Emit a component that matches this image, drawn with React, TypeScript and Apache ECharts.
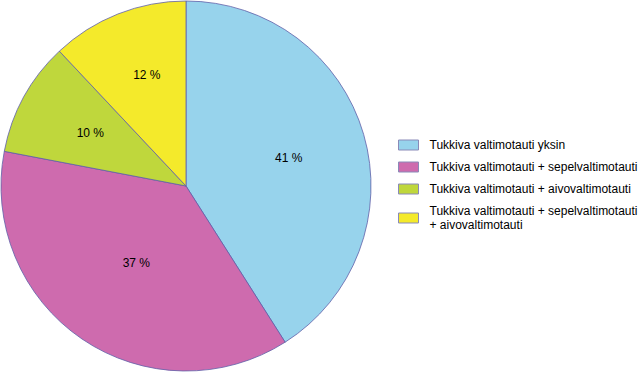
import React, { useEffect, useRef } from "react";
import * as echarts from "echarts";

const categories = [
  "Tukkiva valtimotauti yksin",
  "Tukkiva valtimotauti + sepelvaltimotauti",
  "Tukkiva valtimotauti + aivovaltimotauti",
  "Tukkiva valtimotauti + sepelvaltimotauti\n+ aivovaltimotauti",
];
const values = [41, 37, 10, 12];
const colors = ["#97D3EC", "#CE6BAE", "#BFD73C", "#F4EA2B"];

// small label nudges (px) to match the reference placement
const labelNudge = [
  [11, -1],
  [4, -2],
  [-12, -7],
  [-4, -22],
];

export default function App() {
  const ref = useRef<HTMLDivElement>(null);
  useEffect(() => {
    if (!ref.current) return;
    const chart = echarts.init(ref.current, null, { renderer: "svg" });
    chart.setOption({
      animation: false,
      textStyle: { fontFamily: "Liberation Sans, Arial, sans-serif" },
      legend: {
        orient: "vertical",
        left: 393,
        top: 133,
        itemWidth: 20,
        itemHeight: 10,
        itemGap: 8,
        icon: "rect",
        itemStyle: { borderColor: "#8a8ab8", borderWidth: 1 },
        textStyle: {
          fontSize: 12,
          lineHeight: 14,
          color: "#000",
          padding: [0, 0, 0, 6],
          fontFamily: "Liberation Sans, Arial, sans-serif",
        },
        data: categories,
      },
      series: [
        {
          type: "pie",
          center: [186, 186],
          radius: 185,
          startAngle: 90,
          clockwise: true,
          itemStyle: { borderColor: "#5f5fa8", borderWidth: 0.8 },
          emphasis: { disabled: true },
          label: {
            position: "inside",
            formatter: "{c} %",
            fontSize: 12,
            color: "#000",
            fontFamily: "Liberation Sans, Arial, sans-serif",
          },
          labelLine: { show: false },
          labelLayout: (p: any) => {
            const n = labelNudge[p.dataIndex] || [0, 0];
            return { dx: n[0], dy: n[1] };
          },
          data: categories.map((name, i) => ({
            name,
            value: values[i],
            itemStyle: { color: colors[i] },
          })),
        },
      ],
    });
    return () => chart.dispose();
  }, []);
  return (
    <div
      ref={ref}
      style={{ position: "fixed", left: 0, top: 0, width: 639, height: 373, background: "#fff" }}
    />
  );
}
